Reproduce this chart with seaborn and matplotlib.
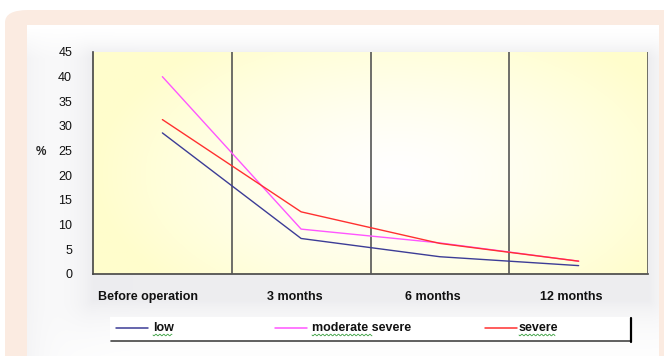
import numpy as np
import pandas as pd
import matplotlib
matplotlib.use("Agg")
import matplotlib.pyplot as plt
import matplotlib.transforms as mtransforms
import seaborn as sns
from matplotlib.patches import FancyBboxPatch, Rectangle
from matplotlib.lines import Line2D

# data
periods = ["Before operation", "3 months", "6 months", "12 months"]
low = [28.6, 7.2, 3.5, 1.7]
moderate_severe = [40.0, 9.1, 6.3, 2.6]
severe = [31.3, 12.6, 6.2, 2.6]
series_names = ["low", "moderate severe", "severe"]
colors = ["#3c3c96", "#ff55ff", "#ff3030"]
yticks = list(range(0, 50, 5))

df = pd.DataFrame({
    "period": periods * 3,
    "value": low + moderate_severe + severe,
    "group": [n for n in series_names for _ in periods],
})

sns.set_theme(style="white")
plt.rcParams["font.family"] = ["Liberation Sans", "DejaVu Sans"]

W, H = 664, 356
fig = plt.figure(figsize=(W / 100, H / 100), dpi=100)
fig.patch.set_facecolor("white")


def fx(x):
    return x / W


def fy(y):
    return 1 - y / H


# outer peach frame and white inner panel
fig.patches.append(FancyBboxPatch((fx(5), fy(380)), fx(700), fy(10) - fy(380),
                                  boxstyle="round,pad=0,rounding_size=0.035",
                                  transform=fig.transFigure, facecolor="#fbebe1",
                                  edgecolor="none", zorder=-10))

# soft grey shading on the inner panel
bg = fig.add_axes([fx(27), 0, fx(659) - fx(27), fy(25)])
bg.set_axis_off()
hh, ww = 331, 632
yy, xx = np.mgrid[0:hh, 0:ww]
px = xx + 27
py = yy + 25
dx = np.maximum(np.maximum(93 - px, px - 648), 0)
dy = np.maximum(np.maximum(52 - py, py - 300), 0)
d = np.sqrt(dx ** 2 + dy ** 2)
shade = 0.07 * np.exp(-d / 22.0) + 0.04 * np.exp(-(px - 27) / 25.0)
shade = shade * np.clip((py - 28) / 30.0, 0, 1)
img = np.ones((hh, ww, 3))
img[..., 0] -= shade
img[..., 1] -= shade
img[..., 2] -= shade * 0.85
bg.imshow(img, aspect="auto", extent=[0, 1, 0, 1], transform=bg.transAxes, zorder=0)

ax = fig.add_axes([fx(93), fy(274), fx(648) - fx(93), fy(52) - fy(274)])

# plot area gradient: pale yellow edges, white centre
gy, gx = np.mgrid[0:1:200j, 0:1:400j]
r = np.sqrt(((gx - 0.55) / 0.55) ** 2 + ((gy - 0.55) / 0.75) ** 2)
t = np.clip(r, 0, 1) ** 1.3
grad = np.ones((200, 400, 3))
grad[..., 2] = 1 - 0.2 * t
grad[..., 1] = 1 - 0.005 * t
ax.imshow(grad, aspect="auto", extent=[0, 1, 0, 1], transform=ax.transAxes, zorder=0)

sns.lineplot(data=df, x="period", y="value", hue="group", palette=colors,
             hue_order=series_names, sort=False, linewidth=1.0, ax=ax,
             legend=False, zorder=3)

ax.set_xlim(-0.5, 3.5)
ax.set_ylim(0, 45)
ax.set_yticks(yticks)
ax.set_yticklabels([str(v) for v in yticks], fontsize=9)
ax.set_xticks(range(len(periods)))
ax.set_xticklabels(periods, fontsize=9, fontweight="bold")
ax.set_xticks(np.arange(0.5, len(periods), 1.0), minor=True)
ax.tick_params(axis="x", which="major", length=0, pad=12, colors="#111111")
ax.tick_params(axis="x", which="minor", length=4, width=1.1, color="#444444", direction="out")
ax.tick_params(axis="y", length=5, width=1.0, color="#444444", direction="out", pad=10,
               labelcolor="#111111")
# Excel places the category labels a little left of the point positions
for lab, shift in zip(ax.get_xticklabels(), [-14, -6, -7, -7]):
    lab.set_transform(lab.get_transform() +
                      mtransforms.ScaledTranslation(shift / 100, 0, fig.dpi_scale_trans))
ax.xaxis.grid(True, which="minor", color="#555555", linewidth=1.2)
ax.yaxis.grid(False)
ax.set_xlabel("")
ax.set_ylabel("")
for side in ["top", "right"]:
    ax.spines[side].set_visible(False)
for side in ["left", "bottom"]:
    ax.spines[side].set_color("#444444")
    ax.spines[side].set_linewidth(1.2)
ax.set_axisbelow(False)

fig.text(fx(41), fy(152), "%", fontsize=8.5, fontweight="bold", ha="center", va="center")

# legend box drawn Excel-style
fig.patches.append(Rectangle((fx(110), fy(341)), fx(631) - fx(110), fy(317) - fy(341),
                             transform=fig.transFigure, facecolor="white",
                             edgecolor="none", zorder=5))
fig.lines.append(Line2D([fx(111), fx(631)], [fy(341), fy(341)], transform=fig.transFigure,
                        color="#444444", linewidth=1.2, zorder=6))
fig.lines.append(Line2D([fx(631), fx(631)], [fy(318), fy(342)], transform=fig.transFigure,
                        color="#000000", linewidth=1.6, zorder=6))

item_x = [116, 275, 485]
text_x = [153, 312, 519]
squiggle_w = [19, 60, 36]
ly = 328
for name, c, x0, tx, sw in zip(series_names, colors, item_x, text_x, squiggle_w):
    fig.lines.append(Line2D([fx(x0), fx(x0 + 32)], [fy(ly), fy(ly)], transform=fig.transFigure,
                            color=c, linewidth=1.1, zorder=7))
    fig.text(fx(tx), fy(ly), name, fontsize=9, fontweight="bold", ha="left", va="center",
             color="#111111", zorder=7)
    sx = np.linspace(tx, tx + sw, int(sw * 2))
    sy = ly + 7 + 0.8 * np.sin((sx - tx) * 1.6)
    fig.lines.append(Line2D(fx(sx), fy(sy), transform=fig.transFigure,
                            color="#3aa040", linewidth=0.6, zorder=7))

fig.savefig("out.png", dpi=100)
